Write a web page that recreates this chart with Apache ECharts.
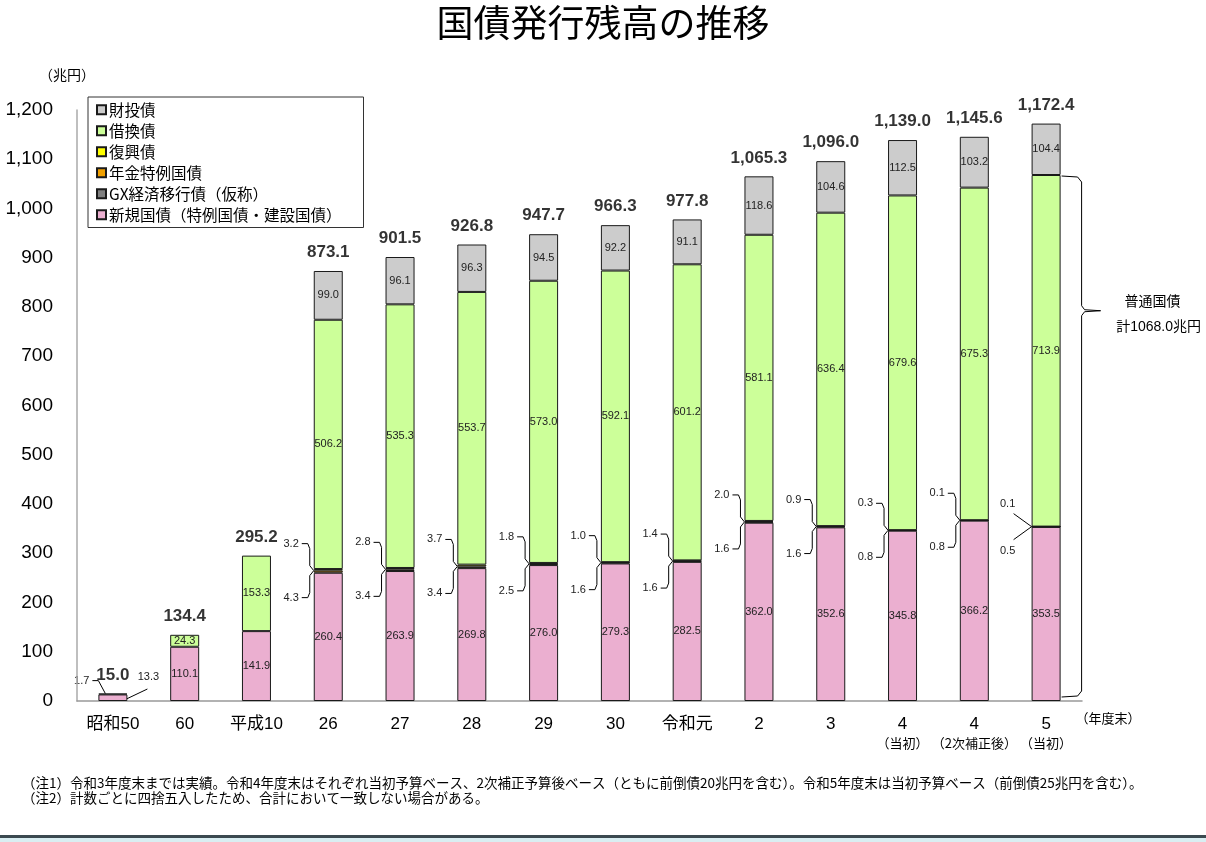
<!DOCTYPE html>
<html>
<head>
<meta charset="utf-8">
<script src="https://cdn.jsdelivr.net/npm/echarts@6/dist/echarts.min.js"></script>
<style>
  html, body { margin: 0; padding: 0; background: #fff; }
  #main { width: 1206px; height: 842px; }
</style>
</head>
<body>
<div id="main"></div>
<script>
// 年度末
const categories = ['昭和50', '60', '平成10', '26', '27', '28', '29', '30', '令和元', '2', '3', '4\n（当初）', '4\n（2次補正後）', '5\n（当初）'];
// 兆円
const shinki = [13.3, 110.1, 141.9, 260.4, 263.9, 269.8, 276.0, 279.3, 282.5, 362.0, 352.6, 345.8, 366.2, 353.5];
const gx = [0, 0, 0, 0, 0, 0, 0, 0, 0, 0, 0, 0, 0, 0];
const nenkin = [0, 0, 0, 4.3, 3.4, 3.4, 2.5, 1.6, 1.6, 1.6, 1.6, 0.8, 0.8, 0.5];
const fukko = [0, 0, 0, 3.2, 2.8, 3.7, 1.8, 1.0, 1.4, 2.0, 0.9, 0.3, 0.1, 0.1];
const karikae = [1.7, 24.3, 153.3, 506.2, 535.3, 553.7, 573.0, 592.1, 601.2, 581.1, 636.4, 679.6, 675.3, 713.9];
const zaitou = [0, 0, 0, 99.0, 96.1, 96.3, 94.5, 92.2, 91.1, 118.6, 104.6, 112.5, 103.2, 104.4];
const totals = [15.0, 134.4, 295.2, 873.1, 901.5, 926.8, 947.7, 966.3, 977.8, 1065.3, 1096.0, 1139.0, 1145.6, 1172.4];
const futsuTotal = 1068.0;

const notes = [
  '（注1）令和3年度末までは実績。令和4年度末はそれぞれ当初予算ベース、2次補正予算後ベース（ともに前倒債20兆円を含む）。令和5年度末は当初予算ベース（前倒債25兆円を含む）。',
  '（注2）計数ごとに四捨五入したため、合計において一致しない場合がある。'
];

const jp = "'Noto Sans CJK JP', sans-serif";
const num = "'Liberation Sans', 'Noto Sans CJK JP', sans-serif";

function comma(v, d) {
  let s = v.toFixed(d);
  let parts = s.split('.');
  parts[0] = parts[0].replace(/\B(?=(\d{3})+(?!\d))/g, ',');
  return parts.join('.');
}

function seg(name, data, color, showLabel) {
  return {
    name: name,
    type: 'bar',
    stack: 'total',
    barWidth: 29,
    data: data.map(v => (v === 0 ? null : v)),
    itemStyle: { color: color, borderColor: '#1a1a1a', borderWidth: 1 },
    label: {
      show: showLabel,
      position: 'inside',
      fontSize: 11,
      fontFamily: num,
      color: '#222',
      formatter: p => (p.dataIndex === 0 ? '' : p.value.toFixed(1))
    },
    emphasis: { disabled: true }
  };
}

var myChart = echarts.init(document.getElementById('main'));
myChart.setOption({
  animation: false,
  backgroundColor: '#fff',
  title: {
    text: '国債発行残高の推移',
    left: 'center',
    top: -1,
    textStyle: { fontSize: 37, fontWeight: 'normal', color: '#000', fontFamily: jp }
  },
  legend: {
    orient: 'vertical',
    left: 88,
    top: 97,
    width: 270,
    padding: [5, 22, 5, 8],
    itemGap: 5.5,
    itemWidth: 9,
    itemHeight: 9,
    icon: 'rect',
    borderColor: '#333',
    borderWidth: 1,
    textStyle: { fontSize: 15.5, color: '#000', fontFamily: jp, padding: [0, 0, 0, -2] },
    data: ['財投債', '借換債', '復興債', '年金特例国債', 'GX経済移行債（仮称）', '新規国債（特例国債・建設国債）']
  },
  grid: { left: 77, right: 124, top: 110, bottom: 141 },
  xAxis: {
    type: 'category',
    data: categories,
    axisLine: { lineStyle: { color: '#999', width: 1.5 } },
    axisTick: { show: false },
    axisLabel: {
      margin: 13,
      interval: 0,
      formatter: v => {
        let p = v.split('\n');
        return p.length > 1 ? '{m|' + p[0] + '}\n{s|' + p[1] + '}' : '{m|' + p[0] + '}';
      },
      rich: {
        m: { fontSize: 17, fontFamily: num, color: '#000', lineHeight: 21 },
        s: { fontSize: 13, fontFamily: jp, color: '#000', lineHeight: 17 }
      }
    }
  },
  yAxis: {
    type: 'value',
    min: 0,
    max: 1200,
    interval: 100,
    axisLine: { show: true, lineStyle: { color: '#aaa', width: 1.5 } },
    axisTick: { show: false },
    splitLine: { show: false },
    axisLabel: {
      margin: 24,
      fontSize: 19,
      fontFamily: num,
      color: '#000',
      formatter: v => comma(v, 0)
    }
  },
  series: [
    seg('新規国債（特例国債・建設国債）', shinki, '#ebafd0', true),
    seg('GX経済移行債（仮称）', gx, '#808080', false),
    seg('年金特例国債', nenkin, '#f0a000', false),
    seg('復興債', fukko, '#ffff00', false),
    seg('借換債', karikae, '#ccff99', true),
    seg('財投債', zaitou, '#cccccc', true),
    {
      name: '合計',
      type: 'scatter',
      data: totals,
      symbolSize: 0,
      silent: true,
      label: {
        show: true,
        position: 'top',
        distance: 10,
        fontSize: 17,
        fontWeight: 'bold',
        fontFamily: num,
        color: '#000',
        formatter: p => comma(p.value, 1)
      }
    }
  ]
});

// 注記・引出線
function px(i, v) {
  return myChart.convertToPixel({ xAxisIndex: 0, yAxisIndex: 0 }, [i, v]);
}
const half = 14.5;
const lineStyle = { stroke: '#000', lineWidth: 1, fill: null };
const smallText = { fontSize: 11, fontFamily: num, fill: '#222' };
let g = [];

// 昭和50
{
  let top = px(0, shinki[0] + karikae[0]);
  let bot = px(0, 0);
  let bx = top[0] - half, rx = top[0] + half;
  g.push({ type: 'polyline', shape: { points: [[bx - 6, top[1] - 13], [bx, top[1] - 13], [bx + 7, top[1]]] }, style: lineStyle });
  g.push({ type: 'text', x: bx - 9, y: top[1] - 13, style: Object.assign({ text: karikae[0].toFixed(1), align: 'right', verticalAlign: 'middle' }, smallText) });
  g.push({ type: 'polyline', shape: { points: [[rx - 1, bot[1] - 2], [rx + 20, bot[1] - 12]] }, style: lineStyle });
  g.push({ type: 'text', x: rx + 21, y: bot[1] - 24, style: Object.assign({ text: shinki[0].toFixed(1), align: 'center', verticalAlign: 'middle' }, smallText) });
}

// 年金特例国債・復興債
for (let i = 3; i < categories.length; i++) {
  let b = px(i, shinki[i] + gx[i] + nenkin[i]);
  let bx = b[0] - half, yB = b[1];
  let d = 27;
  let yT = yB - d, yL = yB + d;
  if (i === categories.length - 1) {
    g.push({ type: 'polyline', shape: { points: [[bx - 18, yB - 13], [bx, yB], [bx - 18, yB + 13]] }, style: lineStyle });
    g.push({ type: 'text', x: bx - 24, y: yB - 23, style: Object.assign({ text: fukko[i].toFixed(1), align: 'center', verticalAlign: 'middle' }, smallText) });
    g.push({ type: 'text', x: bx - 24, y: yB + 24, style: Object.assign({ text: nenkin[i].toFixed(1), align: 'center', verticalAlign: 'middle' }, smallText) });
    continue;
  }
  g.push({ type: 'polyline', shape: { points: [[bx - 12, yT], [bx - 6, yT], [bx - 4, yT + 5], [bx - 4, yB - 5], [bx, yB]] }, style: lineStyle });
  g.push({ type: 'polyline', shape: { points: [[bx - 12, yL], [bx - 6, yL], [bx - 4, yL - 5], [bx - 4, yB + 5], [bx, yB]] }, style: lineStyle });
  g.push({ type: 'text', x: bx - 15, y: yT, style: Object.assign({ text: fukko[i].toFixed(1), align: 'right', verticalAlign: 'middle' }, smallText) });
  g.push({ type: 'text', x: bx - 15, y: yL, style: Object.assign({ text: nenkin[i].toFixed(1), align: 'right', verticalAlign: 'middle' }, smallText) });
}

// 普通国債の括弧
{
  let last = categories.length - 1;
  let t = px(last, futsuTotal);
  let z = px(last, 0);
  let rx = t[0] + half;
  let yTop = t[1], yBot = z[1] - 4;
  let yTip = yTop + (yBot - yTop) * 0.26;
  g.push({
    type: 'polyline',
    shape: { points: [[rx + 1, yTop + 1], [rx + 17, yTop + 2], [rx + 21, yTop + 7], [rx + 21, yTip - 5], [rx + 24, yTip - 1], [rx + 40, yTip], [rx + 24, yTip + 1], [rx + 21, yTip + 5], [rx + 21, yBot - 6], [rx + 17, yBot - 1], [rx + 1, yBot]] },
    style: lineStyle
  });
  g.push({ type: 'text', x: rx + 92, y: yTip - 10, style: { text: '普通国債', align: 'center', verticalAlign: 'middle', fontSize: 14, fontFamily: jp, fill: '#000' } });
  g.push({ type: 'text', x: rx + 98, y: yTip + 16, style: { text: '計' + futsuTotal.toFixed(1) + '兆円', align: 'center', verticalAlign: 'middle', fontSize: 14, fontFamily: num, fill: '#000' } });
}

g.push({ type: 'text', x: 67, y: 75, style: { text: '（兆円）', align: 'center', verticalAlign: 'middle', fontSize: 14, fontFamily: jp, fill: '#000' } });
g.push({ type: 'text', x: 1108, y: 718, style: { text: '（年度末）', align: 'center', verticalAlign: 'middle', fontSize: 13, fontFamily: jp, fill: '#000' } });
g.push({ type: 'text', x: 22, y: 783, style: { text: notes[0], align: 'left', verticalAlign: 'middle', fontSize: 13.5, fontFamily: jp, fill: '#000' } });
g.push({ type: 'text', x: 22, y: 798, style: { text: notes[1], align: 'left', verticalAlign: 'middle', fontSize: 13.5, fontFamily: jp, fill: '#000' } });
g.push({ type: 'rect', shape: { x: 0, y: 835, width: 1206, height: 3 }, style: { fill: '#3b4a50' } });
g.push({ type: 'rect', shape: { x: 0, y: 838, width: 1206, height: 4 }, style: { fill: '#d9eef2' } });

myChart.setOption({ graphic: g });
</script>
</body>
</html>
